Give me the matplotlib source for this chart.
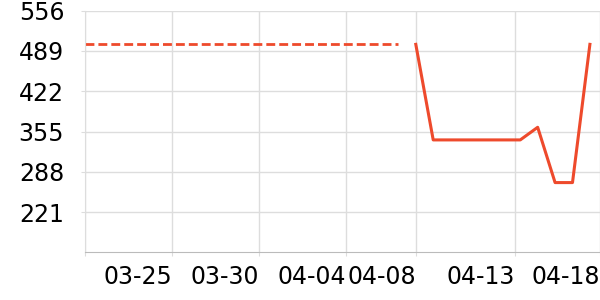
import matplotlib
matplotlib.use("Agg")
import matplotlib.pyplot as plt
import numpy as np

# 30 days, 03-20 .. 04-18
days = np.arange(30)
ref_days = days[:19]
ref_values = [500] * 19
actual_days = days[19:]
actual_values = [500, 341, 341, 341, 341, 341, 341, 362, 270, 270, 500]

y_ticks = [221, 288, 355, 422, 489, 556]
x_tick_pos = [0, 5, 10, 15, 19, 24.67, 29.58]
x_tick_labels = ["", "03-25", "03-30", "04-04", "04-08", "04-13", "04-18"]

color = "#ee4a2c"

fig = plt.figure(figsize=(6, 3), dpi=100)
ax = fig.add_axes([85 / 600, 1 - 252.3 / 300, 515 / 600, (252.3 - 10.7) / 300])

ax.plot(ref_days, ref_values, color=color, linewidth=2, dashes=(3.2, 1.45))
ax.plot(actual_days, actual_values, color=color, linewidth=2.2)

ax.set_xlim(0, 29.58)
ax.set_ylim(154, 556)
ax.set_yticks(y_ticks)
ax.set_xticks(x_tick_pos)
ax.set_xticklabels(x_tick_labels, ha="right")

ax.grid(True, color="#dddddd", linewidth=1)
ax.set_axisbelow(True)
for side in ["top", "right"]:
    ax.spines[side].set_visible(False)
ax.spines["left"].set_color("#dddddd")
ax.spines["bottom"].set_color("#bbbbbb")
ax.tick_params(axis="y", length=3, color="#dddddd", pad=12, labelsize=17)
ax.tick_params(axis="x", length=3, color="#dddddd", pad=6, labelsize=17)

fig.savefig("out.png", dpi=100)
